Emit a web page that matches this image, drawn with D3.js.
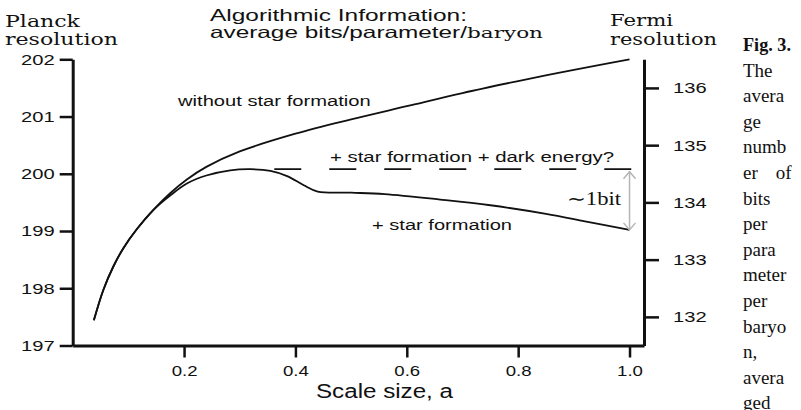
<!DOCTYPE html>
<html>
<head>
<meta charset="utf-8">
<script src="https://cdn.jsdelivr.net/npm/d3@7"></script>
<style>
  body { margin: 0; background: #fff; }
  svg { display: block; }
  .sans { font-family: "Liberation Sans", Arial, sans-serif; fill: #111; }
  .serif { font-family: "DejaVu Serif", serif; fill: #111; }
  .cap { font-family: "Liberation Serif", serif; fill: #111; }
</style>
</head>
<body>
<svg id="svg"></svg>
<script>
// curve without star formation (scale size a, bits)
const aNoSF    = [0.038, 0.055, 0.073, 0.091, 0.115, 0.145, 0.175, 0.205, 0.24, 0.3, 0.4, 0.5, 0.6, 0.7, 0.8, 0.87, 0.94, 1.0];
const bitsNoSF = [197.44, 197.97, 198.38, 198.7, 199.03, 199.37, 199.66, 199.9, 200.12, 200.39, 200.7, 200.95, 201.18, 201.41, 201.62, 201.76, 201.89, 202.0];

// curve with star formation
const aSF    = [0.038, 0.055, 0.073, 0.091, 0.115, 0.145, 0.175, 0.205, 0.24, 0.283, 0.319, 0.355, 0.385, 0.415, 0.44, 0.5, 0.56, 0.66, 0.75, 0.85, 0.92, 1.0];
const bitsSF = [197.44, 197.97, 198.38, 198.7, 199.03, 199.37, 199.62, 199.83, 199.97, 200.06, 200.08, 200.05, 199.96, 199.8, 199.69, 199.67, 199.645, 199.55, 199.45, 199.3, 199.17, 199.02];

// star formation + dark energy level
const darkStart = 0.362;
const darkEnd = 1.01;
const darkLevel = 200.08;

const leftTicks = [197, 198, 199, 200, 201, 202];
const rightTicks = [132, 133, 134, 135, 136];
const xTicks = [0.2, 0.4, 0.6, 0.8, 1.0];

const caption = ["The", "avera", "ge", "numb", "er|of", "bits", "per", "para", "meter", "per", "baryo", "n,", "avera", "ged"];

const width = 801, height = 410;
const svg = d3.select("#svg").attr("width", width).attr("height", height);

const x = d3.scaleLinear().domain([0, 1.026]).range([72.7, 644]);
const y = d3.scaleLinear().domain([197, 202]).range([345.5, 59.3]);
const y2 = d3.scaleLinear().domain([131.5, 136.5]).range([345.5, 59.3]);

// widen glyphs (the source picture is stretched sideways)
function stretch(sel, k) {
  sel.each(function() {
    const w = this.getComputedTextLength();
    d3.select(this).attr("textLength", w * k).attr("lengthAdjust", "spacingAndGlyphs");
  });
}
function fit(sel, w) {
  sel.attr("textLength", w).attr("lengthAdjust", "spacingAndGlyphs");
}

// axes
const axL = svg.append("g").attr("transform", "translate(" + x.range()[0] + ",0)")
  .call(d3.axisLeft(y).tickValues(leftTicks).tickFormat(d3.format("d")).tickSize(13).tickSizeOuter(0).tickPadding(5));
const axR = svg.append("g").attr("transform", "translate(" + x.range()[1] + ",0)")
  .call(d3.axisRight(y2).tickValues(rightTicks).tickFormat(d3.format("d")).tickSize(15).tickSizeOuter(0).tickPadding(14));
const axB = svg.append("g").attr("transform", "translate(0," + y.range()[0] + ")")
  .call(d3.axisBottom(x).tickValues(xTicks).tickFormat(d3.format(".1f")).tickSize(12).tickSizeOuter(0).tickPadding(7));

[axL, axR, axB].forEach(g => {
  g.attr("font-family", null).attr("font-size", null);
  g.select(".domain").attr("stroke", "#111").attr("stroke-width", 3);
  g.selectAll(".tick line").attr("stroke", "#111").attr("stroke-width", 2.5);
  g.selectAll(".tick text").attr("class", "sans").style("font-size", "15.5px");
});
stretch(axL.selectAll(".tick text"), 1.3);
stretch(axR.selectAll(".tick text"), 1.3);
stretch(axB.selectAll(".tick text"), 1.2);

// curves
const line = d3.line().x(d => x(d[0])).y(d => y(d[1])).curve(d3.curveCatmullRom.alpha(0.5));
svg.append("path")
   .datum(d3.zip(aNoSF, bitsNoSF))
   .attr("d", line)
   .attr("fill", "none").attr("stroke", "#111").attr("stroke-width", 1.8);
svg.append("path")
   .datum(d3.zip(aSF, bitsSF))
   .attr("d", line)
   .attr("fill", "none").attr("stroke", "#111").attr("stroke-width", 1.8);

svg.append("line")
   .attr("x1", x(darkStart)).attr("x2", x(darkEnd))
   .attr("y1", y(darkLevel)).attr("y2", y(darkLevel))
   .attr("stroke", "#111").attr("stroke-width", 1.8)
   .attr("stroke-dasharray", "27,28");

// ~1 bit arrow
const ax = x(1.0);
const yTop = y(darkLevel) + 2.5, yBot = y(bitsSF[bitsSF.length - 1]);
const grey = "#b5b5b5";
svg.append("line").attr("x1", ax).attr("x2", ax).attr("y1", yTop).attr("y2", yBot)
   .attr("stroke", grey).attr("stroke-width", 1.5);
svg.append("path").attr("d", `M${ax - 6},${yTop + 7}L${ax},${yTop}L${ax + 6},${yTop + 7}`)
   .attr("fill", "none").attr("stroke", grey).attr("stroke-width", 1.5);
svg.append("path").attr("d", `M${ax - 6},${yBot - 7}L${ax},${yBot}L${ax + 6},${yBot - 7}`)
   .attr("fill", "none").attr("stroke", grey).attr("stroke-width", 1.5);

// labels
svg.append("text").attr("class", "cap").attr("x", 567).attr("y", 205)
   .style("font-size", "18px").text("\u223C1bit").call(fit, 54);

svg.append("text").attr("class", "sans").attr("x", 178).attr("y", 106)
   .style("font-size", "15.5px").text("without star formation").call(stretch, 1.3);
svg.append("text").attr("class", "sans").attr("x", 330).attr("y", 162)
   .style("font-size", "15.5px").text("+ star formation + dark energy?").call(fit, 284);
svg.append("text").attr("class", "sans").attr("x", 372).attr("y", 229.5)
   .style("font-size", "15.5px").text("+ star formation").call(fit, 140);

svg.append("text").attr("class", "sans").attr("x", 316).attr("y", 398)
   .style("font-size", "19.5px").text("Scale size, a").call(fit, 137);

// titles
svg.append("text").attr("class", "serif").attr("x", 5).attr("y", 26.5)
   .style("font-size", "16.5px").text("Planck").call(fit, 75);
svg.append("text").attr("class", "serif").attr("x", 5).attr("y", 45)
   .style("font-size", "16.5px").text("resolution").call(fit, 113);
svg.append("text").attr("class", "serif").attr("x", 610).attr("y", 26)
   .style("font-size", "16.5px").text("Fermi").call(fit, 63);
svg.append("text").attr("class", "serif").attr("x", 610).attr("y", 44.5)
   .style("font-size", "16.5px").text("resolution").call(fit, 107);

svg.append("text").attr("class", "sans").attr("x", 210).attr("y", 21)
   .style("font-size", "16.5px").text("Algorithmic Information:").call(fit, 257);
const t2 = svg.append("text").attr("class", "sans").attr("x", 210).attr("y", 38)
   .style("font-size", "16.5px");
t2.append("tspan").text("average bits/parameter/").call(fit, 257);
t2.append("tspan").style("font-family", "'DejaVu Serif', serif")
   .style("font-size", "14px").text("baryon").call(fit, 76);

// caption column
svg.append("text").attr("class", "cap").attr("x", 743).attr("y", 51)
   .style("font-size", "18px").style("font-weight", "bold").text("Fig. 3.").call(fit, 48);
caption.forEach((w, i) => {
  const yy = 51 + 25.6 * (i + 1);
  const parts = w.split("|");
  svg.append("text").attr("class", "cap").attr("x", 743).attr("y", yy)
     .style("font-size", "19px").text(parts[0]);
  if (parts[1]) {
    svg.append("text").attr("class", "cap").attr("x", 791.5).attr("y", yy)
       .attr("text-anchor", "end").style("font-size", "19px").text(parts[1]);
  }
});
</script>
</body>
</html>
